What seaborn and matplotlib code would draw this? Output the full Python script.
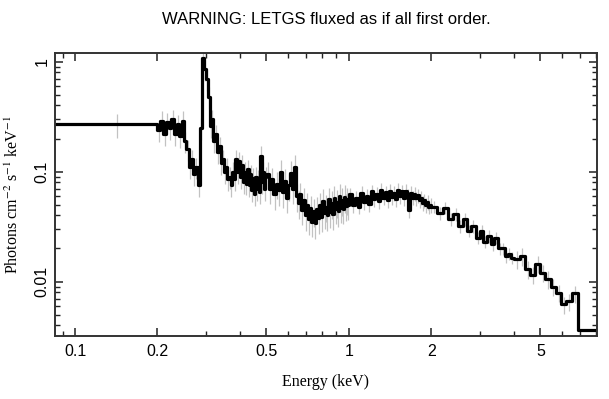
import numpy as np
import matplotlib
matplotlib.use('Agg')
import matplotlib.pyplot as plt
import seaborn as sns
from matplotlib.ticker import FixedLocator, FixedFormatter, LogLocator, NullFormatter

# LETGS fluxed spectrum.
# each segment: bin left edges (keV), flux (photons/cm2/s/keV), relative error
edges_first = [0.084]
flux_first = [0.27]

edges_soft = [0.200, 0.205, 0.210, 0.215, 0.220, 0.225, 0.230, 0.235, 0.240, 0.245,
              0.250, 0.255, 0.260, 0.265, 0.270, 0.275, 0.280, 0.285, 0.290, 0.295]
flux_soft = [0.24, 0.29, 0.22, 0.28, 0.25, 0.30, 0.22, 0.27, 0.21, 0.29,
             0.19, 0.16, 0.11, 0.13, 0.095, 0.11, 0.075, 0.25, 1.08, 0.85]

edges_line = [0.300, 0.305, 0.310, 0.315, 0.320, 0.325, 0.330, 0.335, 0.340, 0.345,
              0.350, 0.355, 0.360, 0.365, 0.370, 0.375, 0.380, 0.385, 0.390, 0.395,
              0.400, 0.405, 0.410, 0.415, 0.420, 0.425, 0.430, 0.435, 0.440, 0.445,
              0.450, 0.455, 0.460, 0.465, 0.470, 0.475, 0.480, 0.485, 0.490, 0.495]
flux_line = [0.70, 0.48, 0.26, 0.30, 0.19, 0.22, 0.15, 0.17, 0.12, 0.13,
             0.10, 0.11, 0.085, 0.09, 0.075, 0.10, 0.085, 0.13, 0.10, 0.125,
             0.09, 0.115, 0.08, 0.10, 0.078, 0.105, 0.075, 0.095, 0.068, 0.088,
             0.062, 0.09, 0.07, 0.085, 0.065, 0.14, 0.08, 0.10, 0.07, 0.09]

edges_mid = [0.50, 0.51, 0.52, 0.53, 0.54, 0.55, 0.56, 0.57, 0.58, 0.59,
             0.60, 0.61, 0.62, 0.63, 0.64, 0.65, 0.66, 0.67, 0.68, 0.69,
             0.70, 0.71, 0.72, 0.73, 0.74, 0.75, 0.76, 0.77, 0.78, 0.79,
             0.80, 0.81, 0.82, 0.83, 0.84, 0.85, 0.86, 0.87, 0.88, 0.89,
             0.90, 0.91, 0.92, 0.93, 0.94, 0.95, 0.96, 0.97, 0.98, 0.99]
flux_mid = [0.095, 0.07, 0.085, 0.062, 0.078, 0.068, 0.10, 0.065, 0.082, 0.058,
            0.075, 0.098, 0.07, 0.11, 0.06, 0.052, 0.062, 0.045, 0.055, 0.04,
            0.05, 0.037, 0.047, 0.035, 0.044, 0.034, 0.046, 0.038, 0.05, 0.039,
            0.054, 0.042, 0.048, 0.04, 0.056, 0.043, 0.052, 0.041, 0.058, 0.046,
            0.053, 0.044, 0.06, 0.047, 0.055, 0.046, 0.059, 0.049, 0.056, 0.05]

edges_kev = [1.000, 1.025, 1.050, 1.075, 1.100, 1.125, 1.150, 1.175, 1.200, 1.225,
             1.250, 1.275, 1.300, 1.325, 1.350, 1.375, 1.400, 1.425, 1.450, 1.475,
             1.500, 1.525, 1.550, 1.575, 1.600, 1.625, 1.650, 1.675, 1.700, 1.725,
             1.750, 1.775, 1.800, 1.825, 1.850, 1.875, 1.900, 1.925, 1.950, 1.975]
flux_kev = [0.062, 0.05, 0.058, 0.048, 0.064, 0.053, 0.06, 0.051, 0.066, 0.056,
            0.063, 0.054, 0.068, 0.058, 0.065, 0.055, 0.067, 0.059, 0.064, 0.056,
            0.068, 0.06, 0.066, 0.057, 0.067, 0.06, 0.045, 0.064, 0.058, 0.063,
            0.057, 0.061, 0.055, 0.058, 0.052, 0.055, 0.05, 0.053, 0.048, 0.05]

edges_hard = [2.0, 2.1, 2.2, 2.3, 2.4, 2.5, 2.6, 2.7, 2.8, 2.9,
              3.0, 3.1, 3.2, 3.3, 3.4, 3.5, 3.6, 3.7, 3.8, 3.9]
flux_hard = [0.048, 0.042, 0.047, 0.037, 0.041, 0.032, 0.037, 0.029, 0.032, 0.025,
             0.029, 0.023, 0.026, 0.022, 0.025, 0.020, 0.020, 0.017, 0.018, 0.0165]

edges_top = [4.0, 4.2, 4.4, 4.6, 4.8, 5.0, 5.2, 5.45, 5.7, 5.95, 6.2, 6.5]
flux_top = [0.016, 0.017, 0.013, 0.0115, 0.0145, 0.012, 0.0105, 0.009, 0.0079, 0.0062,
            0.0066, 0.0078]

edges_last = [6.85]
flux_last = [0.0036]
e_max = 8.5

segments = [
    (edges_first, flux_first, 0.25),
    (edges_soft, flux_soft, 0.22),
    (edges_line, flux_line, 0.22),
    (edges_mid, flux_mid, 0.28),
    (edges_kev, flux_kev, 0.15),
    (edges_hard, flux_hard, 0.13),
    (edges_top, flux_top, 0.18),
    (edges_last, flux_last, 0.0),
]

left = np.concatenate([s[0] for s in segments])
flux = np.concatenate([s[1] for s in segments])
rel = np.concatenate([[s[2]] * len(s[0]) for s in segments])
edges = np.append(left, e_max)
centers = 0.5 * (edges[:-1] + edges[1:])
err = flux * rel

sns.set_style("ticks")
plt.rcParams['font.family'] = ['Liberation Sans', 'DejaVu Sans']
plt.rcParams['mathtext.fontset'] = 'stix'
plt.rcParams['text.color'] = 'black'
plt.rcParams['axes.labelcolor'] = 'black'

fig = plt.figure(figsize=(6.09, 3.99), dpi=100)
ax = fig.add_axes([55 / 609, 1 - 336 / 399, 542 / 609, 283 / 399])

# gray error bars under the black histogram
has_err = err > 0
ax.vlines(centers[has_err], (flux - err)[has_err], (flux + err)[has_err],
          color='#c2c2c2', lw=0.9, zorder=1)

sns.lineplot(x=edges, y=np.append(flux, flux[-1]), drawstyle='steps-post',
             color='black', lw=2.3, estimator=None, sort=False, ax=ax, zorder=2)

ax.set_xscale('log')
ax.set_yscale('log')
ax.set_xlim(0.0845, 8.05)
ax.set_ylim(0.0032, 1.2)

xt = [0.1, 0.2, 0.5, 1, 2, 5]
ax.xaxis.set_major_locator(FixedLocator(xt))
ax.xaxis.set_major_formatter(FixedFormatter(['0.1', '0.2', '0.5', '1', '2', '5']))
ax.xaxis.set_minor_locator(LogLocator(base=10, subs=np.arange(1, 10)))
ax.xaxis.set_minor_formatter(NullFormatter())

yt = [0.01, 0.1, 1]
ax.yaxis.set_major_locator(FixedLocator(yt))
ax.yaxis.set_major_formatter(FixedFormatter(['0.01', '0.1', '1']))
ax.yaxis.set_minor_locator(LogLocator(base=10, subs=np.arange(2, 10)))
ax.yaxis.set_minor_formatter(NullFormatter())
for lab in ax.get_yticklabels():
    lab.set_rotation(90)
    lab.set_va('center')

ax.tick_params(which='both', direction='in', top=True, right=True,
               colors='#222222', labelcolor='black', labelsize=11.5)
ax.tick_params(which='major', length=6, width=1.1)
ax.tick_params(which='minor', length=3.5, width=1.0)
ax.tick_params(axis='x', pad=6)
ax.tick_params(axis='y', pad=4)
for sp in ax.spines.values():
    sp.set_linewidth(1.4)
    sp.set_color('#333333')

ax.set_xlabel('Energy (keV)', family='Liberation Serif', fontsize=11.5, color='black')
ax.xaxis.set_label_coords(0.5, -0.135)
ax.set_ylabel('Photons cm$^{-2}$ s$^{-1}$ keV$^{-1}$', family='Liberation Serif',
              fontsize=11.5, color='black')
ax.yaxis.set_label_coords(-0.06, 0.5)

fig.text(326 / 609, 1 - 20 / 399, 'WARNING: LETGS fluxed as if all first order.',
         ha='center', va='center', fontsize=12, family='Liberation Sans', color='black')

fig.savefig('out.png', dpi=100)
